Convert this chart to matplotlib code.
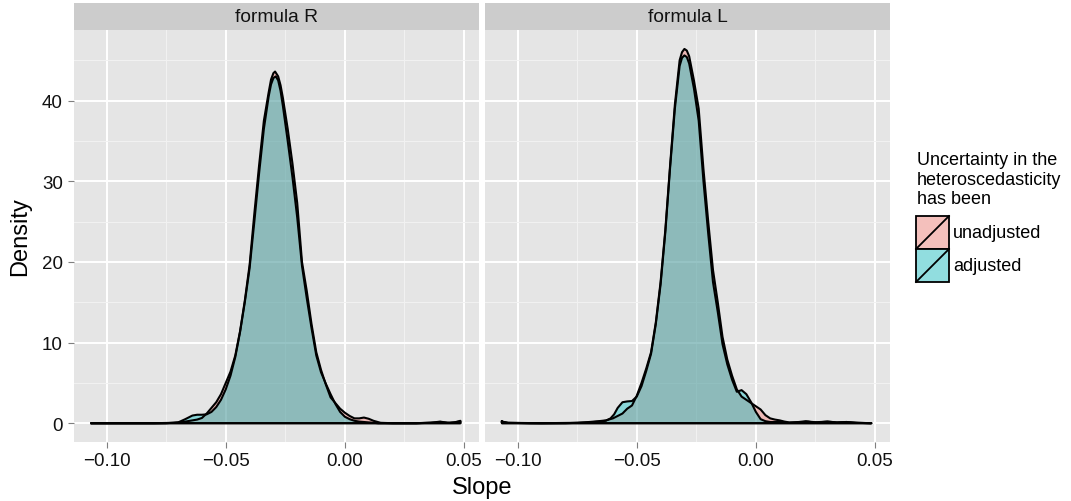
import numpy as np
import matplotlib.pyplot as plt
from matplotlib.patches import Rectangle

plt.rcParams['font.family'] = ['Liberation Sans', 'DejaVu Sans']

# Kernel density of the slope estimate, per facet and per group
r_unadj_x = [-0.1063, -0.080, -0.072, -0.068, -0.065, -0.062, -0.060, -0.058, -0.056,
             -0.054, -0.052, -0.050, -0.048, -0.046, -0.044, -0.042, -0.040, -0.038,
             -0.036, -0.034, -0.032, -0.031, -0.030, -0.0293, -0.028, -0.027, -0.026,
             -0.024, -0.022, -0.020, -0.018, -0.016, -0.014, -0.012, -0.010, -0.008,
             -0.006, -0.004, -0.002, 0.000, 0.002, 0.004, 0.006, 0.008, 0.010, 0.012,
             0.015, 0.020, 0.030, 0.036, 0.040, 0.043, 0.046, 0.0485]
r_unadj_y = [0.0, 0.0, 0.05, 0.15, 0.3, 0.45, 0.65, 1.2, 1.9,
             2.6, 3.6, 5.0, 6.4, 8.4, 11.4, 15.2, 19.6, 26.0,
             32.0, 37.5, 41.0, 42.6, 43.4, 43.6, 43.0, 41.9, 40.3,
             36.5, 32.2, 27.3, 20.0, 16.4, 12.3, 8.8, 6.6, 4.8,
             3.2, 2.5, 1.8, 1.3, 0.9, 0.6, 0.6, 0.7, 0.55, 0.3,
             0.05, 0.0, 0.0, 0.05, 0.2, 0.05, 0.1, 0.3]

r_adj_x = [-0.1063, -0.075, -0.070, -0.067, -0.064, -0.062, -0.060, -0.058, -0.056,
           -0.054, -0.052, -0.050, -0.048, -0.046, -0.044, -0.042, -0.040, -0.038,
           -0.036, -0.034, -0.032, -0.031, -0.030, -0.029, -0.028, -0.027, -0.026,
           -0.024, -0.022, -0.020, -0.018, -0.016, -0.014, -0.012, -0.010, -0.008,
           -0.006, -0.004, -0.002, 0.000, 0.002, 0.004, 0.006, 0.008, 0.010, 0.014,
           0.030, 0.038, 0.040, 0.044, 0.0485]
r_adj_y = [0.0, 0.0, 0.1, 0.5, 0.95, 1.05, 1.05, 1.1, 1.4,
           2.0, 2.9, 4.2, 5.9, 8.2, 11.3, 15.0, 19.2, 25.0,
           31.0, 36.5, 40.5, 42.0, 42.8, 43.0, 42.5, 41.2, 39.3,
           35.0, 30.5, 25.5, 19.5, 15.5, 11.8, 8.4, 6.3, 4.9,
           3.6, 2.4, 1.4, 0.8, 0.5, 0.3, 0.2, 0.15, 0.1, 0.0,
           0.0, 0.1, 0.15, 0.05, 0.2]

l_unadj_x = [-0.1066, -0.104, -0.095, -0.080, -0.075, -0.070, -0.066, -0.063, -0.060,
             -0.058, -0.056, -0.054, -0.052, -0.050, -0.048, -0.046, -0.044, -0.042,
             -0.040, -0.038, -0.036, -0.034, -0.032, -0.031, -0.030, -0.029, -0.028,
             -0.026, -0.024, -0.022, -0.020, -0.018, -0.016, -0.014, -0.012, -0.010,
             -0.008, -0.006, -0.004, -0.002, 0.000, 0.002, 0.004, 0.006, 0.008, 0.010,
             0.012, 0.014, 0.018, 0.021, 0.024, 0.027, 0.030, 0.034, 0.038, 0.042, 0.0485]
l_unadj_y = [0.2, 0.05, 0.0, 0.0, 0.05, 0.15, 0.25, 0.35, 0.6,
             0.9, 1.2, 1.8, 2.2, 3.4, 5.0, 6.8, 8.8, 12.5,
             17.5, 24.0, 32.0, 39.5, 45.0, 46.0, 46.4, 46.2, 45.5,
             42.5, 39.0, 31.5, 25.0, 19.0, 15.0, 10.7, 7.9, 5.9,
             4.2, 3.3, 2.9, 2.5, 2.1, 1.7, 1.0, 0.6, 0.45, 0.35,
             0.2, 0.1, 0.15, 0.25, 0.1, 0.15, 0.2, 0.1, 0.15, 0.05, 0.0]

l_adj_x = [-0.1066, -0.104, -0.090, -0.075, -0.070, -0.066, -0.063, -0.061, -0.0595,
           -0.058, -0.056, -0.054, -0.052, -0.050, -0.048, -0.046, -0.044, -0.042,
           -0.040, -0.038, -0.036, -0.034, -0.032, -0.031, -0.030, -0.029, -0.028,
           -0.026, -0.024, -0.022, -0.020, -0.018, -0.016, -0.014, -0.012, -0.010,
           -0.008, -0.006, -0.004, -0.002, 0.000, 0.002, 0.004, 0.006, 0.010, 0.014,
           0.018, 0.022, 0.026, 0.030, 0.034, 0.038, 0.043, 0.0485]
l_adj_y = [0.2, 0.05, 0.0, 0.05, 0.1, 0.2, 0.3, 0.6, 1.1,
           1.9, 2.6, 2.7, 2.75, 3.3, 4.6, 6.5, 8.6, 12.3,
           17.2, 23.7, 31.7, 39.0, 44.3, 45.3, 45.6, 45.4, 44.6,
           41.5, 37.5, 30.0, 23.5, 17.5, 13.8, 9.8, 7.3, 5.4,
           3.9, 4.1, 3.6, 2.6, 1.4, 0.5, 0.25, 0.15, 0.15, 0.05,
           0.1, 0.2, 0.1, 0.2, 0.1, 0.15, 0.05, 0.0]

facets = ['formula R', 'formula L']
groups = ['unadjusted', 'adjusted']
colors = {'unadjusted': '#F8766D', 'adjusted': '#00BFC4'}
curves = {
    'formula R': {'unadjusted': (r_unadj_x, r_unadj_y), 'adjusted': (r_adj_x, r_adj_y)},
    'formula L': {'unadjusted': (l_unadj_x, l_unadj_y), 'adjusted': (l_adj_x, l_adj_y)},
}
x_ticks = [-0.10, -0.05, 0.00, 0.05]
x_minor = [-0.075, -0.025, 0.025]
y_ticks = [0, 10, 20, 30, 40]
y_minor = [5, 15, 25, 35, 45]
alpha = 0.4
outline_lw = 1.5

W, H = 1071, 502
fig = plt.figure(figsize=(W / 100, H / 100), dpi=100)

panel_left = [74, 485]
panel_w = 405
panel_top, panel_bottom = 31, 443

for i, facet in enumerate(facets):
    x0 = panel_left[i]
    ax = fig.add_axes([x0 / W, 1 - panel_bottom / H, panel_w / W, (panel_bottom - panel_top) / H])
    ax.set_facecolor('#E5E5E5')
    for s in ax.spines.values():
        s.set_visible(False)
    ax.set_xlim(-0.1137, 0.0563)
    ax.set_ylim(-2.33, 48.75)
    ax.set_xticks(x_ticks)
    ax.set_xticks(x_minor, minor=True)
    ax.set_yticks(y_ticks)
    ax.set_yticks(y_minor, minor=True)
    ax.set_xticklabels([('%.2f' % t).replace('-', '\u2212') for t in x_ticks])
    ax.grid(which='major', color='white', lw=1.4)
    ax.grid(which='minor', color='#F2F2F2', lw=0.7)
    ax.set_axisbelow(True)
    ax.tick_params(which='major', direction='out', length=4, width=0.8, color='#7F7F7F',
                   labelsize=13.5, labelcolor='#111111')
    ax.tick_params(axis='x', pad=3)
    ax.tick_params(axis='y', pad=4)
    ax.tick_params(which='minor', length=0)
    if i > 0:
        ax.tick_params(axis='y', left=False, labelleft=False)

    for g in groups:
        xs, ys = curves[facet][g]
        px = np.r_[xs, xs[-1], xs[0]]
        py = np.r_[ys, 0, 0]
        ax.fill(px, py, facecolor=colors[g], alpha=alpha, lw=0)
        ax.plot(np.r_[px, px[0]], np.r_[py, py[0]], color='black', lw=outline_lw,
                solid_joinstyle='round')

    strip = fig.add_axes([x0 / W, 1 - panel_top / H, panel_w / W, 27 / H])
    strip.set_facecolor('#CCCCCC')
    strip.set_xticks([])
    strip.set_yticks([])
    for s in strip.spines.values():
        s.set_visible(False)
    strip.text(0.5, 0.5, facet, ha='center', va='center', fontsize=13.8, color='#111111',
               transform=strip.transAxes)

fig.text(20 / W, 1 - 237 / H, 'Density', rotation=90, ha='center', va='center', fontsize=17)
fig.text(482 / W, 1 - 488 / H, 'Slope', ha='center', va='center', fontsize=17)

# legend, laid out in pixel units
leg = fig.add_axes([900 / W, 1 - 300 / H, 171 / W, 160 / H])
leg.set_xlim(900, 1071)
leg.set_ylim(300, 140)
leg.axis('off')
leg.text(916.5, 152, 'Uncertainty in the\nheteroscedasticity\nhas been', ha='left', va='top',
         fontsize=13, linespacing=1.2)
key_top = 217
key_h = 33
for j, g in enumerate(groups):
    ky = key_top + j * key_h
    leg.add_patch(Rectangle((916, ky), 33, key_h, facecolor='#F2F2F2', edgecolor='none'))
    leg.add_patch(Rectangle((916, ky), 33, key_h, facecolor=colors[g], alpha=alpha,
                            edgecolor='none'))
    leg.add_patch(Rectangle((916, ky), 33, key_h, facecolor='none', edgecolor='black', lw=1.3))
    leg.plot([916, 949], [ky + key_h, ky], color='black', lw=1.3)
    leg.text(953, ky + key_h / 2, g, ha='left', va='center', fontsize=13)

fig.savefig('out.png', dpi=100)
